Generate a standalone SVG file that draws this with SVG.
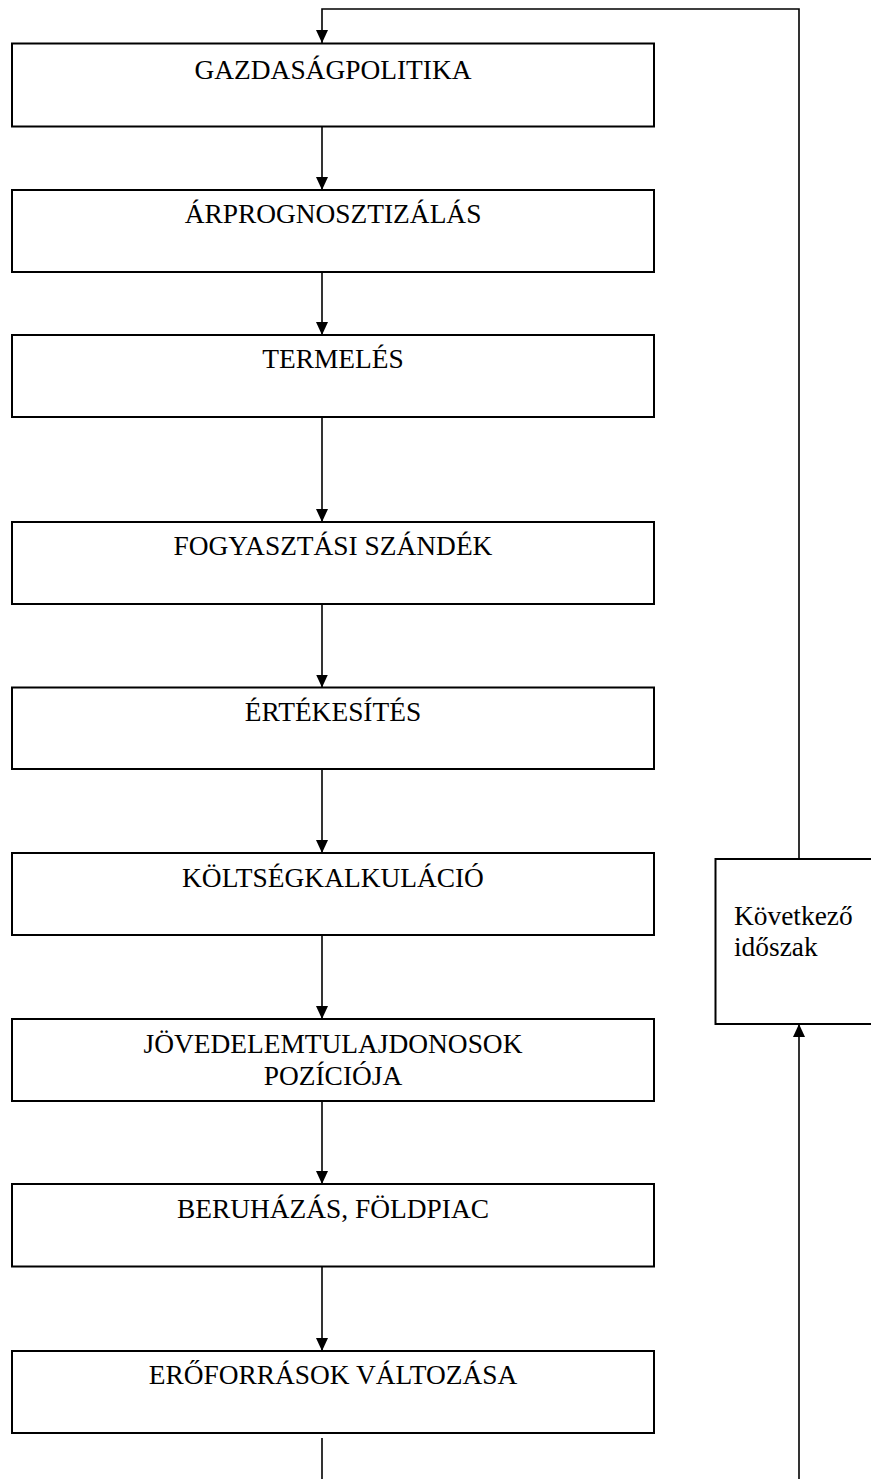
<svg xmlns="http://www.w3.org/2000/svg" width="871" height="1479" viewBox="0 0 871 1479">
<style>
.box{fill:#fff;stroke:#000;stroke-width:2}
.t{font-family:"Liberation Serif","Times New Roman",serif;font-size:27.4px;fill:#000;text-anchor:middle}
.tl{font-family:"Liberation Serif","Times New Roman",serif;font-size:27.4px;fill:#000}
.c{fill:none;stroke:#000;stroke-width:1.6}
</style>
<defs>
<marker id="ah" viewBox="0 0 13 12" refX="13" refY="6" markerWidth="13" markerHeight="12" markerUnits="userSpaceOnUse" orient="auto">
<path d="M0,0 L13,6 L0,12 z" fill="#000"/>
</marker>
</defs>
<rect width="871" height="1479" fill="#fff"/>
<g id="connectors">
<path class="c" d="M799,859 V9 H322 V43" marker-end="url(#ah)"/>
<path class="c" d="M322,127 V190" marker-end="url(#ah)"/>
<path class="c" d="M322,272 V335" marker-end="url(#ah)"/>
<path class="c" d="M322,417 V522" marker-end="url(#ah)"/>
<path class="c" d="M322,604 V687.5" marker-end="url(#ah)"/>
<path class="c" d="M322,769 V853" marker-end="url(#ah)"/>
<path class="c" d="M322,935 V1019" marker-end="url(#ah)"/>
<path class="c" d="M322,1101 V1184" marker-end="url(#ah)"/>
<path class="c" d="M322,1266.5 V1351" marker-end="url(#ah)"/>
<path class="c" d="M322,1438 V1479"/>
<path class="c" d="M799,1479 V1024" marker-end="url(#ah)"/>
</g>
<g id="n1"><rect class="box" x="12" y="43.5" width="642" height="83"/><text class="t" x="333" y="79">GAZDASÁGPOLITIKA</text></g>
<g id="n2"><rect class="box" x="12" y="190" width="642" height="82"/><text class="t" x="333" y="223">ÁRPROGNOSZTIZÁLÁS</text></g>
<g id="n3"><rect class="box" x="12" y="335" width="642" height="82"/><text class="t" x="333" y="368">TERMELÉS</text></g>
<g id="n4"><rect class="box" x="12" y="522" width="642" height="82"/><text class="t" x="333" y="555">FOGYASZTÁSI SZÁNDÉK</text></g>
<g id="n5"><rect class="box" x="12" y="687.5" width="642" height="81.5"/><text class="t" x="333" y="721">ÉRTÉKESÍTÉS</text></g>
<g id="n6"><rect class="box" x="12" y="853" width="642" height="82"/><text class="t" x="333" y="887">KÖLTSÉGKALKULÁCIÓ</text></g>
<g id="n7"><rect class="box" x="12" y="1019" width="642" height="82"/><text class="t" x="333" y="1053">JÖVEDELEMTULAJDONOSOK</text><text class="t" x="333" y="1085">POZÍCIÓJA</text></g>
<g id="n8"><rect class="box" x="12" y="1184" width="642" height="82.5"/><text class="t" x="333" y="1218">BERUHÁZÁS, FÖLDPIAC</text></g>
<g id="n9"><rect class="box" x="12" y="1351" width="642" height="82"/><text class="t" x="333" y="1384">ERŐFORRÁSOK VÁLTOZÁSA</text></g>
<g id="n10"><rect class="box" x="715.5" y="859" width="170" height="165"/><text class="tl" x="734" y="925">Következő</text><text class="tl" x="734" y="956">időszak</text></g>
</svg>
